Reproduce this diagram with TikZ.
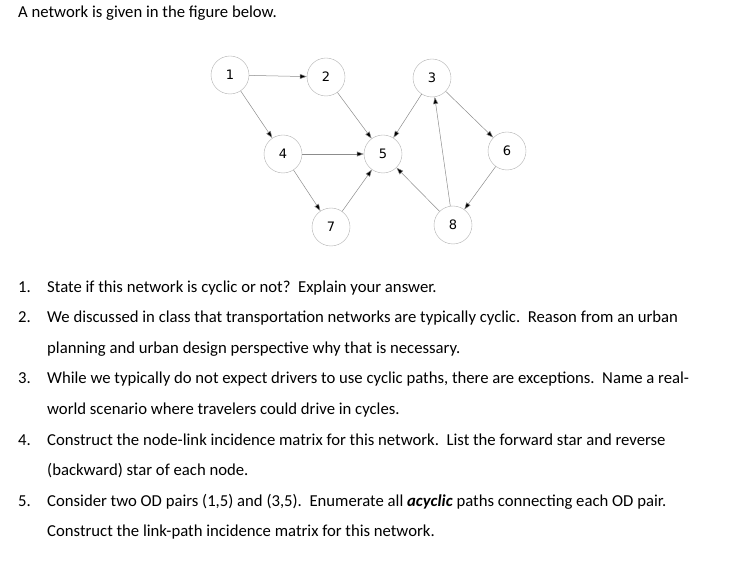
\documentclass[tikz,border=0pt]{standalone}
\usepackage{fontspec}
\setmainfont{Carlito}
\newfontfamily\nodefont{DejaVu Sans}
\usetikzlibrary{arrows.meta}
\begin{document}
\begin{tikzpicture}[x=1pt,y=-1pt,
  vtx/.style={circle,draw=black!30,fill=white,minimum size=38pt,inner sep=0pt,font=\nodefont\fontsize{13}{15}\selectfont},
  lnk/.style={draw=black!45,line width=0.5pt,-{Triangle[length=7pt,width=5pt,fill=black]}},
  txt/.style={anchor=base west,inner sep=0pt,font=\fontsize{16.7}{20}\selectfont}]
\useasboundingbox (0,0) rectangle (737,588);
\node[vtx] (n1) at (230,75) {1};
\node[vtx] (n2) at (326,77) {2};
\node[vtx] (n3) at (432,78) {3};
\node[vtx] (n4) at (283,154) {4};
\node[vtx] (n5) at (383,154) {5};
\node[vtx] (n6) at (507,151) {6};
\node[vtx] (n7) at (331,227) {7};
\node[vtx] (n8) at (453,225) {8};
\draw[lnk] (n1) -- (n2);
\draw[lnk] (n1) -- (n4);
\draw[lnk] (n2) -- (n5);
\draw[lnk] (n3) -- (n5);
\draw[lnk] (n3) -- (n6);
\draw[lnk] (n4) -- (n5);
\draw[lnk] (n4) -- (n7);
\draw[lnk] (n7) -- (n5);
\draw[lnk] (n8) -- (n5);
\draw[lnk] (n8) -- (n3);
\draw[lnk] (n6) -- (n8);
\node[txt] (t0) at (18,18) {A network is given in the figure below.};
\node[txt] (k1) at (18,292.5) {1.};
\node[txt] (l1) at (47,292.5) {State if this network is cyclic or not?\ \ Explain your answer.};
\node[txt] (k2) at (18,323) {2.};
\node[txt] (l2) at (47,323) {We discussed in class that transportation networks are typically cyclic.\ \ Reason from an urban};
\node[txt] (l2b) at (47,353.5) {planning and urban design perspective why that is necessary.};
\node[txt] (k3) at (18,384) {3.};
\node[txt] (l3) at (47,384) {While we typically do not expect drivers to use cyclic paths, there are exceptions.\ \ Name a real-};
\node[txt] (l3b) at (47,414.5) {world scenario where travelers could drive in cycles.};
\node[txt] (k4) at (18,445) {4.};
\node[txt] (l4) at (47,445) {Construct the node-link incidence matrix for this network.\ \ List the forward star and reverse};
\node[txt] (l4b) at (47,475.5) {(backward) star of each node.};
\node[txt] (k5) at (18,506) {5.};
\node[txt] (l5) at (47,506) {Consider two OD pairs (1,5) and (3,5).\ \ Enumerate all \textbf{\textit{acyclic}} paths connecting each OD pair.};
\node[txt] (l5b) at (47,536.5) {Construct the link-path incidence matrix for this network.};
\end{tikzpicture}
\end{document}
